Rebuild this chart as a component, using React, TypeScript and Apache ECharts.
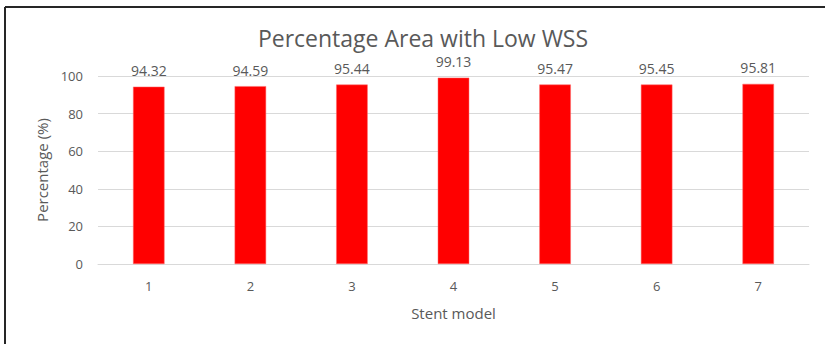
import React, { useEffect, useRef } from "react";
import * as echarts from "echarts";

const categories = ["1", "2", "3", "4", "5", "6", "7"];
const values = [94.32, 94.59, 95.44, 99.13, 95.47, 95.45, 95.81];
const yTicks = { min: 0, max: 100, interval: 20 };
const titleText = "Percentage Area with Low WSS";
const xName = "Stent model";
const yName = "Percentage (%)";

const FONT = "'Open Sans', 'Noto Sans', sans-serif";
const GRAY = "#595959";

export default function App() {
  const ref = useRef<HTMLDivElement>(null);
  useEffect(() => {
    if (!ref.current) return;
    const chart = echarts.init(ref.current, null, { renderer: "svg" });
    chart.setOption({
      animation: false,
      backgroundColor: "#ffffff",
      textStyle: { fontFamily: FONT },
      title: {
        text: titleText,
        left: 418,
        textAlign: "center",
        top: 21,
        textStyle: { fontFamily: FONT, fontSize: 23, fontWeight: "normal", color: GRAY },
      },
      graphic: [
        { type: "line", shape: { x1: 5, y1: 7, x2: 825, y2: 7 }, style: { stroke: "#262626", lineWidth: 2 } },
        { type: "line", shape: { x1: 5, y1: 7, x2: 5, y2: 344 }, style: { stroke: "#262626", lineWidth: 2 } },
      ],
      grid: { left: 98, right: 16, top: 76, bottom: 80, containLabel: false },
      xAxis: {
        type: "category",
        data: categories,
        name: xName,
        nameLocation: "middle",
        nameGap: 41,
        nameTextStyle: { fontFamily: FONT, fontSize: 15, color: GRAY },
        axisLine: { show: true, lineStyle: { color: "#d9d9d9" } },
        axisTick: { show: false },
        axisLabel: { fontFamily: FONT, fontSize: 13, color: GRAY, margin: 15 },
      },
      yAxis: {
        type: "value",
        min: yTicks.min,
        max: yTicks.max,
        interval: yTicks.interval,
        name: yName,
        nameLocation: "middle",
        nameGap: 49,
        nameTextStyle: { fontFamily: FONT, fontSize: 15, color: GRAY },
        axisLine: { show: false },
        axisTick: { show: false },
        axisLabel: { fontFamily: FONT, fontSize: 13, color: GRAY, margin: 15 },
        splitLine: { lineStyle: { color: "#d9d9d9", width: 1 } },
      },
      series: [
        {
          type: "bar",
          data: values,
          barWidth: "31%",
          itemStyle: { color: "#ff0000", borderColor: "#ff6b6b", borderWidth: 0.5 },
          label: {
            show: true,
            position: "top",
            distance: 9,
            fontFamily: FONT,
            fontSize: 14,
            color: GRAY,
            formatter: (p: any) => p.value.toFixed(2),
          },
        },
      ],
    });
    return () => chart.dispose();
  }, []);
  return (
    <div
      ref={ref}
      style={{ position: "fixed", left: 0, top: 0, width: 825, height: 344 }}
    />
  );
}
